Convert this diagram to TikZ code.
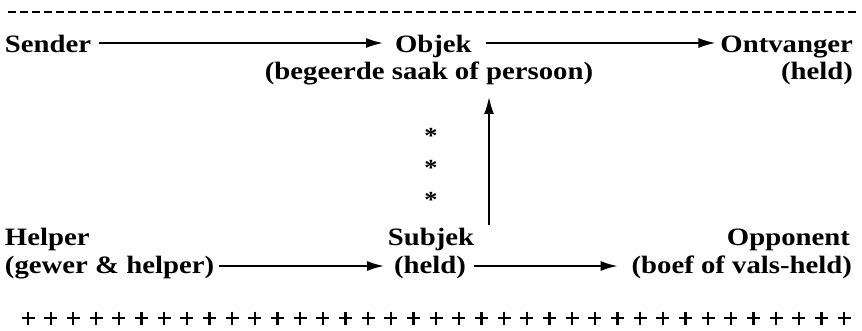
\documentclass[tikz,border=0pt]{standalone}
\usepackage{fontspec}
\newfontface\labfont{Liberation Serif Bold}[FakeStretch=1.15]
\usetikzlibrary{arrows.meta,calc}

\tikzset{
  lbl/.style={inner sep=0pt, outer sep=0pt, font=\labfont\fontsize{25}{28}\selectfont},
  arr/.style={line width=1.8pt, -{Latex[length=17pt,width=10pt]}},
  rule/.style={line width=1.4pt, dash pattern=on 8pt off 4pt},
  plusmark/.style={line width=2.3pt},
  starmark/.style={inner sep=0pt, font=\labfont\fontsize{23}{26}\selectfont},
}

\begin{document}
\begin{tikzpicture}[x=1pt, y=-1pt]
  \useasboundingbox (0,0) rectangle (862,331);

  % dashed rule at the top
  \coordinate (ruleL) at (8,12);
  \coordinate (ruleR) at (856,12);
  \draw[rule] (ruleL) -- (ruleR);

  % upper row
  \node[lbl, anchor=base west] (sender) at (5,53) {Sender};
  \node[lbl, anchor=base west] (objek) at (395,53) {Objek};
  \node[lbl, anchor=base east] (ontvanger) at (853,53) {Ontvanger};
  \node[lbl, anchor=base] (objdesc) at (429,80) {(begeerde saak of persoon)};
  \node[lbl, anchor=base east] (ontdesc) at (853,80) {(held)};

  % lower rows
  \node[lbl, anchor=base west] (helper) at (5,246) {Helper};
  \node[lbl, anchor=base west] (helpdesc) at (5,273) {(gewer \& helper)};
  \node[lbl, anchor=base] (subjek) at (431,246) {Subjek};
  \node[lbl, anchor=base] (subdesc) at (430,273) {(held)};
  \node[lbl, anchor=base east] (opponent) at (850,246) {Opponent};
  \node[lbl, anchor=base east] (oppdesc) at (852,273) {(boef of vals-held)};

  % horizontal connectors
  \draw[arr] ([shift={(8pt,10pt)}]sender.base east) -- ([shift={(-12pt,10pt)}]objek.base west);
  \draw[arr] ([shift={(14pt,10pt)}]objek.base east) -- ([shift={(-5pt,10pt)}]ontvanger.base west);
  \draw[arr] ([shift={(5pt,7pt)}]helpdesc.base east) -- ([shift={(-10pt,7pt)}]subdesc.base west);
  \draw[arr] ([shift={(8pt,7pt)}]subdesc.base east) -- ([shift={(-14pt,7pt)}]oppdesc.base west);

  % vertical connector from the subject up to the object
  \draw[arr] ([xshift=58pt]subjek.north |- 0,225) -- ([xshift=58pt]subjek.north |- 0,97);

  % column of asterisks
  \node[starmark] (st1) at (431,136) {*};
  \node[starmark] (st2) at (431,168) {*};
  \node[starmark] (st3) at (431,200) {*};

  % row of plus signs at the bottom
  \foreach \i in {0,...,36} {
    \draw[plusmark] ({28+22.67*\i-6.5},318) -- ++(13,0)
                    ({28+22.67*\i},311.5) -- ++(0,13);
  }
\end{tikzpicture}
\end{document}
